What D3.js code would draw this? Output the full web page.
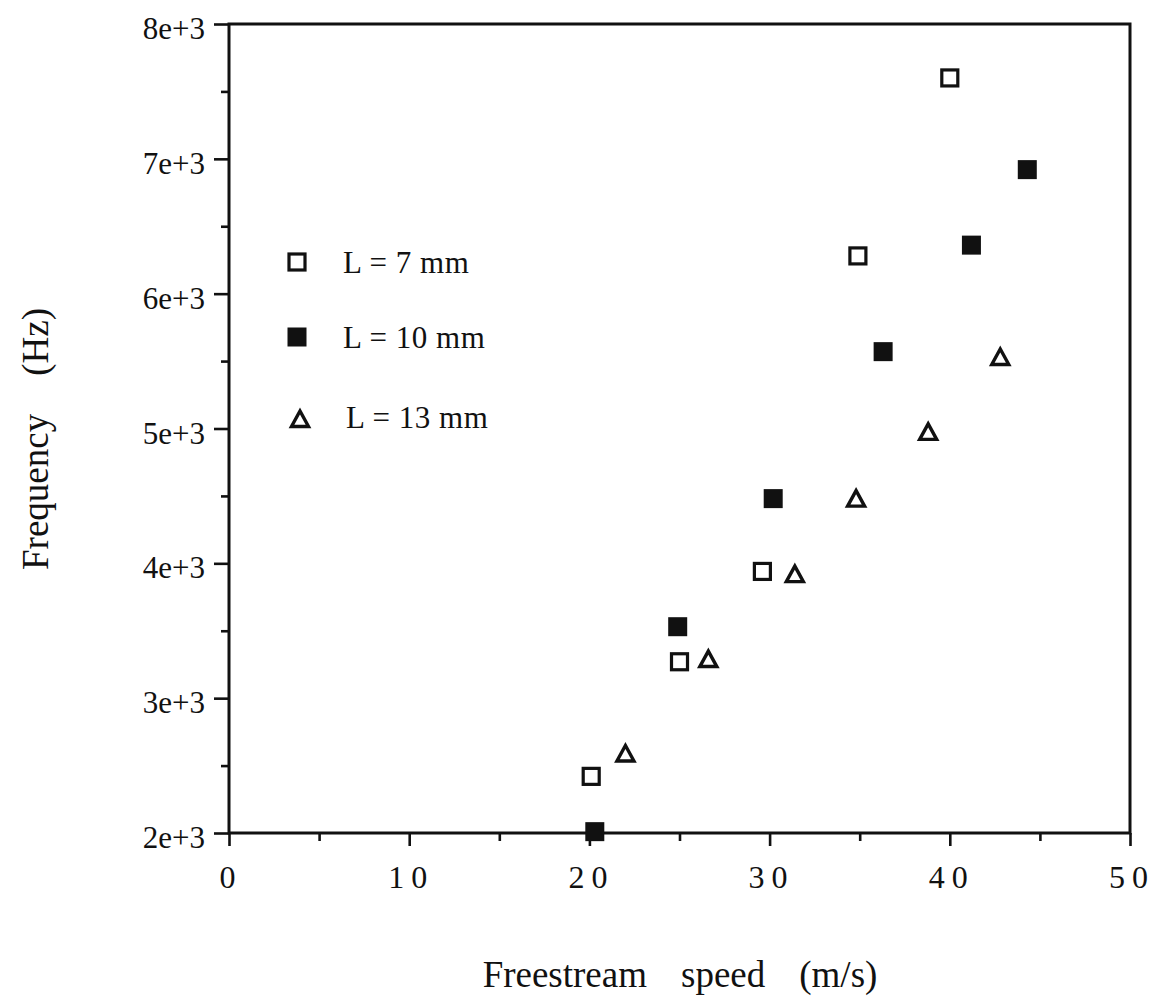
<!DOCTYPE html>
<html>
<head>
<meta charset="utf-8">
<script src="https://cdn.jsdelivr.net/npm/d3@7"></script>
<style>
  body { margin: 0; background: #fff; }
  svg { display: block; }
  text { font-family: "Liberation Serif", "Times New Roman", serif; fill: #111; }
</style>
</head>
<body>
<div></div>
<script>
// freestream speed (m/s) and frequency (Hz) for each slot length
var speed7 = [20.1, 25.0, 29.6, 34.9, 40.0];
var freq7 = [2420, 3270, 3940, 6280, 7600];

var speed10 = [20.3, 24.9, 30.2, 36.3, 41.2, 44.3];
var freq10 = [2010, 3530, 4480, 5570, 6360, 6920];

var speed13 = [22.0, 26.6, 31.4, 34.8, 38.8, 42.8];
var freq13 = [2590, 3290, 3920, 4480, 4975, 5530];

var seriesNames = ["L = 7 mm", "L = 10 mm", "L = 13 mm"];
var xTicks = [0, 10, 20, 30, 40, 50];
var yTicks = [2000, 3000, 4000, 5000, 6000, 7000, 8000];
var yTickLabels = ["2e+3", "3e+3", "4e+3", "5e+3", "6e+3", "7e+3", "8e+3"];

var width = 1157,
    height = 1000;
var plotLeft = 229, plotRight = 1130, plotTop = 24, plotBottom = 833;

var svg = d3.select("div")
    .append("svg")
    .attr("width", width)
    .attr("height", height);

var x = d3.scaleLinear().domain([0, 50]).range([plotLeft, plotRight]);
var y = d3.scaleLinear().domain([2000, 8000]).range([plotBottom, plotTop]);

// minor ticks first, then major ones
svg.append("g")
    .attr("transform", "translate(0," + plotBottom + ")")
    .call(d3.axisBottom(x).tickValues(d3.range(5, 50, 10)).tickSize(8).tickSizeOuter(0).tickFormat(""))
    .call(function (g) { g.select(".domain").remove(); });
svg.append("g")
    .attr("transform", "translate(" + plotLeft + ",0)")
    .call(d3.axisLeft(y).tickValues(d3.range(2500, 8000, 1000)).tickSize(8).tickSizeOuter(0).tickFormat(""))
    .call(function (g) { g.select(".domain").remove(); });

var xAxis = svg.append("g")
    .attr("transform", "translate(0," + plotBottom + ")")
    .call(d3.axisBottom(x).tickValues(xTicks).tickSize(13).tickSizeOuter(0).tickFormat(""));
xAxis.select(".domain").remove();

var yAxis = svg.append("g")
    .attr("transform", "translate(" + plotLeft + ",0)")
    .call(d3.axisLeft(y).tickValues(yTicks).tickSize(15).tickSizeOuter(0).tickFormat(""));
yAxis.select(".domain").remove();

svg.selectAll(".tick line")
    .attr("stroke", "#111")
    .attr("stroke-width", 2.6);

// box frame
svg.append("rect")
    .attr("x", plotLeft)
    .attr("y", plotTop)
    .attr("width", plotRight - plotLeft)
    .attr("height", plotBottom - plotTop)
    .attr("fill", "none")
    .attr("stroke", "#111")
    .attr("stroke-width", 3);

// tick labels
svg.selectAll(".xlab")
    .data(xTicks)
    .enter()
    .append("text")
    .attr("class", "xlab")
    .attr("x", function (d) { return x(d) + 2; })
    .attr("y", 888)
    .attr("text-anchor", "middle")
    .style("font-size", "32px")
    .style("letter-spacing", "7px")
    .text(function (d) { return d; });

svg.selectAll(".ylab")
    .data(yTicks)
    .enter()
    .append("text")
    .attr("class", "ylab")
    .attr("x", 205)
    .attr("y", function (d) { return y(d) + 15; })
    .attr("text-anchor", "end")
    .style("font-size", "31px")
    .text(function (d, i) { return yTickLabels[i]; });

// axis titles
var xt = svg.append("text")
    .attr("x", 680)
    .attr("y", 987)
    .attr("text-anchor", "middle")
    .style("font-size", "37px");
xt.append("tspan").text("Freestream");
xt.append("tspan").attr("dx", 34).text("speed");
xt.append("tspan").attr("dx", 34).text("(m/s)");

var yt = svg.append("text")
    .attr("transform", "translate(48,439) rotate(-90)")
    .attr("text-anchor", "middle")
    .style("font-size", "37px");
yt.append("tspan").text("Frequency");
yt.append("tspan").attr("dx", 38).text("(Hz)");

// markers
var tri = "M-8.5,7.5L8.5,7.5L0,-8Z";

function openSquare(sel) {
    sel.append("rect")
        .attr("x", -8).attr("y", -8)
        .attr("width", 16).attr("height", 16)
        .attr("fill", "#fff")
        .attr("stroke", "#111")
        .attr("stroke-width", 3.2);
}
function filledSquare(sel) {
    sel.append("rect")
        .attr("x", -9.5).attr("y", -9.5)
        .attr("width", 19).attr("height", 19)
        .attr("fill", "#111");
}
function triangle(sel) {
    sel.append("path")
        .attr("d", tri)
        .attr("fill", "#fff")
        .attr("stroke", "#111")
        .attr("stroke-width", 3.4)
        .attr("stroke-linejoin", "miter");
}

var drawers = [openSquare, filledSquare, triangle];
var seriesX = [speed7, speed10, speed13];
var seriesY = [freq7, freq10, freq13];

seriesX.forEach(function (xs, s) {
    svg.selectAll(".pt" + s)
        .data(xs.map(function (v, i) { return [v, seriesY[s][i]]; }))
        .enter()
        .append("g")
        .attr("class", "pt" + s)
        .attr("transform", function (d) { return "translate(" + x(d[0]) + "," + y(d[1]) + ")"; })
        .call(drawers[s]);
});

// legend
var legendPos = [[297, 262, 343, 273], [297, 337, 343, 348], [300, 419, 346, 428]];
seriesNames.forEach(function (name, i) {
    var p = legendPos[i];
    svg.append("g")
        .attr("transform", "translate(" + p[0] + "," + p[1] + ")")
        .call(drawers[i]);
    svg.append("text")
        .attr("x", p[2])
        .attr("y", p[3])
        .style("font-size", "31px")
        .style("letter-spacing", "0.5px")
        .text(name);
});
</script>
</body>
</html>
